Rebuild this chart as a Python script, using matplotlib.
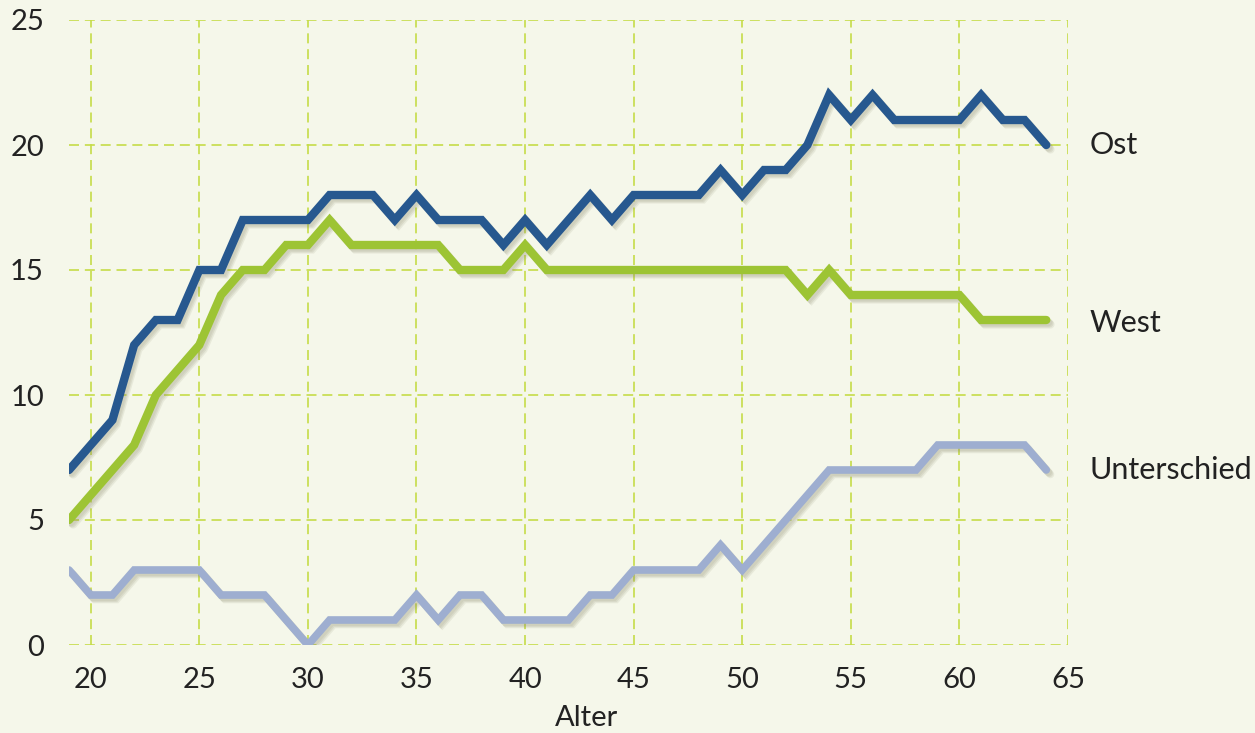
import matplotlib.pyplot as plt
import matplotlib.patheffects as pe
import numpy as np

# data
alter = np.arange(19, 65)
ost = [7, 8, 9, 12, 13, 13, 15, 15, 17, 17, 17, 17, 18, 18, 18, 17, 18, 17, 17, 17,
       16, 17, 16, 17, 18, 17, 18, 18, 18, 18, 19, 18, 19, 19, 20, 22, 21, 22, 21, 21,
       21, 21, 22, 21, 21, 20]
west = [5, 6, 7, 8, 10, 11, 12, 14, 15, 15, 16, 16, 17, 16, 16, 16, 16, 16, 15, 15,
        15, 16, 15, 15, 15, 15, 15, 15, 15, 15, 15, 15, 15, 15, 14, 15, 14, 14, 14, 14,
        14, 14, 13, 13, 13, 13]
unterschied = [3, 2, 2, 3, 3, 3, 3, 2, 2, 2, 1, 0, 1, 1, 1, 1, 2, 1, 2, 2,
               1, 1, 1, 1, 2, 2, 3, 3, 3, 3, 4, 3, 4, 5, 6, 7, 7, 7, 7, 7,
               8, 8, 8, 8, 8, 7]
names = ["Ost", "West", "Unterschied"]
label_y = [20, 12.9, 7]

bg = "#f5f7ea"
blue = "#27588f"
green = "#9dc434"
lightblue = "#9eaed0"
gridc = "#c6dc48"
textc = "#222222"

plt.rcParams['font.family'] = ['Lato', 'DejaVu Sans']

fig = plt.figure(figsize=(12.55, 7.33), dpi=100, facecolor=bg)
ax = fig.add_axes([69/1255, 88/733, (1068-69)/1255, (645-20)/733])
ax.set_facecolor(bg)

# soft drop shadow: a few faint offset copies
shadow = [pe.SimpleLineShadow(offset=(3.0, -3.2), shadow_color="#8a8a6a", alpha=0.12),
          pe.SimpleLineShadow(offset=(2.2, -2.4), shadow_color="#8a8a6a", alpha=0.15),
          pe.SimpleLineShadow(offset=(1.4, -1.6), shadow_color="#8a8a6a", alpha=0.12),
          pe.Normal()]

for vals, col, lw in [(unterschied, lightblue, 5.5), (west, green, 6), (ost, blue, 6)]:
    ax.plot(alter, vals, color=col, lw=lw, solid_capstyle='round',
            solid_joinstyle='miter', path_effects=shadow, zorder=3)

ax.set_xlim(19, 65)
ax.set_ylim(0, 25)
ax.set_xticks(np.arange(20, 66, 5))
ax.set_yticks(np.arange(0, 26, 5))
ax.grid(True, color=gridc, linestyle=(0, (6, 3.5)), linewidth=1.2, zorder=1)
for s in ax.spines.values():
    s.set_visible(False)
ax.tick_params(length=0, labelsize=21, labelcolor=textc)
ax.tick_params(axis='y', pad=18)
ax.tick_params(axis='x', pad=16)

for name, y in zip(names, label_y):
    ax.text(66.0, y, name, fontsize=22, color=textc, va='center', ha='left', clip_on=False)

fig.text(587/1255, 15/733, "Alter", fontsize=21, color=textc, ha='center', va='center')

fig.savefig("out.png", dpi=100, facecolor=bg)
